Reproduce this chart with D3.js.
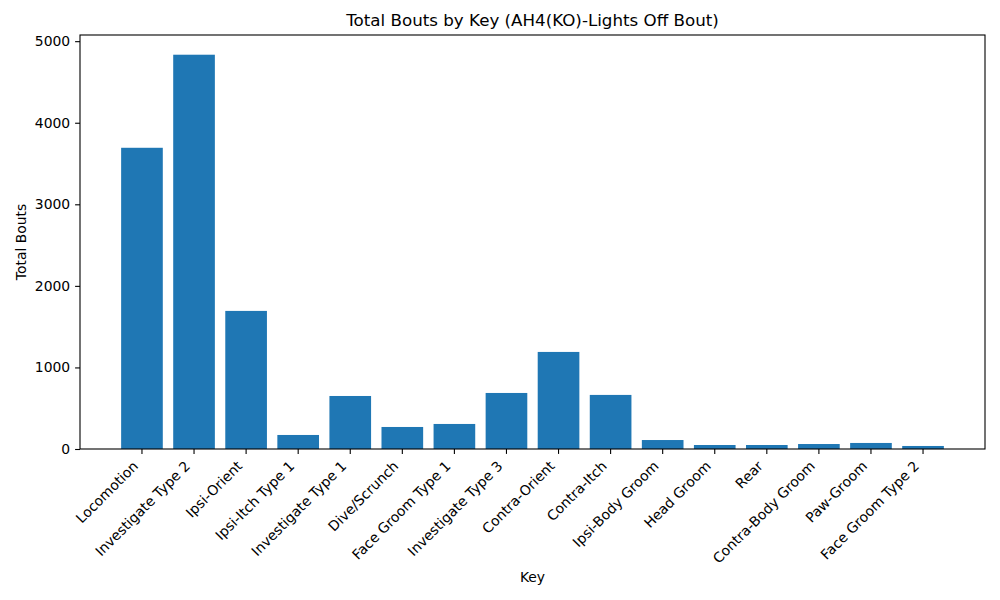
<!DOCTYPE html>
<html lang="en">
<head>
  <meta charset="UTF-8">
  <title>Total Bouts by Key</title>
  <script src="https://d3js.org/d3.v7.min.js"></script>
  <style>
    body { margin: 0; background: #fff; }
    text { font-family: "DejaVu Sans", sans-serif; fill: #000; }
  </style>
</head>
<body>
  <div id="chart"></div>
  <script>
    // Categories and values
    var keys = ["Locomotion", "Investigate Type 2", "Ipsi-Orient", "Ipsi-Itch Type 1",
                "Investigate Type 1", "Dive/Scrunch", "Face Groom Type 1", "Investigate Type 3",
                "Contra-Orient", "Contra-Itch", "Ipsi-Body Groom", "Head Groom", "Rear",
                "Contra-Body Groom", "Paw-Groom", "Face Groom Type 2"];
    var bouts = [3693, 4834, 1693, 172, 650, 270, 307, 687, 1190, 663, 110, 49, 49, 61, 74, 37];
    var yTicks = [0, 1000, 2000, 3000, 4000, 5000];

    var W = 1000, H = 600;
    var margin = {top: 35, right: 15, bottom: 151, left: 80};
    var width = W - margin.left - margin.right,
        height = H - margin.top - margin.bottom;

    var svg = d3.select("#chart").append("svg")
        .attr("width", W)
        .attr("height", H);

    var g = svg.append("g")
        .attr("transform", "translate(" + margin.left + "," + margin.top + ")");

    var x = d3.scaleBand()
        .domain(keys)
        .range([0, width])
        .paddingInner(0.2)
        .paddingOuter(0.79);

    var y = d3.scaleLinear()
        .domain([0, d3.max(bouts) * 1.05])
        .range([height, 0]);

    // Bars
    g.selectAll("rect.bar")
      .data(keys)
      .enter()
      .append("rect")
        .attr("class", "bar")
        .attr("x", function(d) { return x(d); })
        .attr("y", function(d, i) { return y(bouts[i]); })
        .attr("width", x.bandwidth())
        .attr("height", function(d, i) { return height - y(bouts[i]); })
        .style("fill", "#1f77b4");

    // Y axis
    var yAxis = g.append("g")
        .call(d3.axisLeft(y).tickValues(yTicks).tickFormat(d3.format("d")).tickSize(4.9).tickPadding(4.9));
    yAxis.select(".domain").remove();
    yAxis.selectAll("text").style("font-size", "13.9px").style("font-family", "DejaVu Sans");
    yAxis.selectAll("line").attr("stroke", "#000").attr("stroke-width", 1.1);

    // X axis
    var xAxis = g.append("g")
        .attr("transform", "translate(0," + height + ")")
        .call(d3.axisBottom(x).tickSize(4.9).tickFormat(""));
    xAxis.select(".domain").remove();
    xAxis.selectAll("line").attr("stroke", "#000").attr("stroke-width", 1.1);

    // Rotated category labels
    g.selectAll("text.xlab")
      .data(keys)
      .enter()
      .append("text")
        .attr("class", "xlab")
        .attr("text-anchor", "end")
        .attr("transform", function(d) {
          return "translate(" + (x(d) + x.bandwidth() / 2 - 3) + "," + (height + 18) + ") rotate(-45)";
        })
        .style("font-size", "13.9px")
        .text(function(d) { return d; });

    // Frame
    g.append("rect")
        .attr("width", width)
        .attr("height", height)
        .attr("fill", "none")
        .attr("stroke", "#000")
        .attr("stroke-width", 1.1);

    // Title
    svg.append("text")
        .attr("x", margin.left + width / 2)
        .attr("y", margin.top - 9)
        .attr("text-anchor", "middle")
        .style("font-size", "16.7px")
        .text("Total Bouts by Key (AH4(KO)-Lights Off Bout)");

    // Axis labels
    svg.append("text")
        .attr("x", margin.left + width / 2)
        .attr("y", 582)
        .attr("text-anchor", "middle")
        .style("font-size", "13.9px")
        .text("Key");

    svg.append("text")
        .attr("transform", "translate(26," + (margin.top + height / 2) + ") rotate(-90)")
        .attr("text-anchor", "middle")
        .style("font-size", "13.9px")
        .text("Total Bouts");
  </script>
</body>
</html>
